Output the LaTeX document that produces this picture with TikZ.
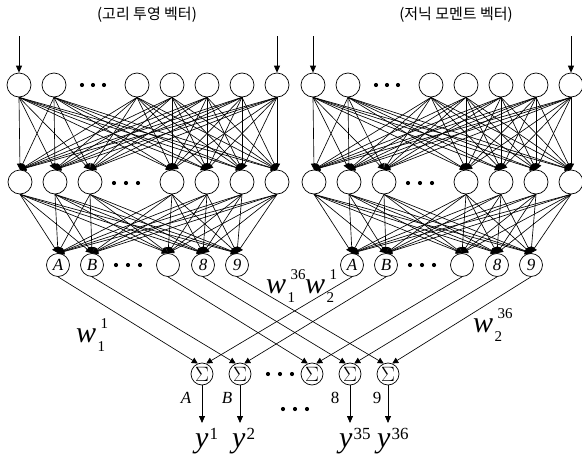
\documentclass[tikz,border=0pt]{standalone}
\usepackage{fontspec}
\setmainfont{Liberation Serif}
\newfontfamily\krfont{Noto Sans CJK KR}
\usetikzlibrary{arrows.meta}
\newcommand\wfnt{\fontsize{30}{30}\selectfont\itshape}
\newcommand\sfnt{\fontsize{15}{15}\selectfont}
\newcommand\wlab[2]{{\wfnt w}\kern1.5pt\makebox[0pt][l]{\kern3pt\raisebox{14pt}{\sfnt #2}}\raisebox{-9pt}{\sfnt #1}}
\newcommand\ylab[1]{{\fontsize{30}{30}\selectfont\itshape y}\kern1pt\raisebox{8pt}{\fontsize{17}{17}\selectfont #1}}
\begin{document}
\begin{tikzpicture}[x=1pt,y=-1pt,
  neuron/.style={circle,draw,line width=0.7pt,minimum size=24pt,inner sep=0pt},
  small/.style={circle,draw,line width=0.7pt,minimum size=23pt,inner sep=0pt,font=\fontsize{17}{17}\selectfont\itshape},
  sumnode/.style={circle,draw,line width=0.7pt,minimum size=22pt,inner sep=0pt,font=\fontsize{20}{20}\selectfont},
  conn/.style={line width=0.65pt,-{Triangle[length=6pt,width=6pt]}},
  arr/.style={line width=0.8pt,-{Triangle[length=7pt,width=6pt]}},
  dotc/.style={circle,fill,inner sep=0pt,minimum size=4.2pt},
  lbl/.style={font=\fontsize{17}{17}\selectfont, inner sep=0pt}]
\useasboundingbox (0,0) rectangle (582,461);

% titles
\node[font=\krfont\fontsize{15}{17}\selectfont] (t1) at (147,15) {(고리 투영 벡터)};
\node[font=\krfont\fontsize{15}{17}\selectfont] (t2) at (456,15) {(저닉 모멘트 벡터)};

% two networks
\foreach \N/\o in {L/0,R/294}{
  \foreach \x [count=\i] in {19,54,137,172,207,242,277}
    \node[neuron] (\N1-\i) at (\x+\o,85) {};
  \foreach \x [count=\i] in {20,55,90,172,207,242,277}
    \node[neuron] (\N2-\i) at (\x+\o,182) {};
  \foreach \x/\t [count=\i] in {58/A,92/B,168/{},203/8,237/9}
    \node[small] (\N3-\i) at (\x+\o,265) {\t};
  \foreach \d [count=\k] in {82,93,104}
    \node[dotc] (\N d1-\k) at (\d+\o,85) {};
  \foreach \d [count=\k] in {114,126,138}
    \node[dotc] (\N d2-\k) at (\d+\o,183) {};
  \foreach \d [count=\k] in {116,128,140}
    \node[dotc] (\N d3-\k) at (\d+\o,265) {};
  \coordinate (\N in1) at (19+\o,36);
  \coordinate (\N in2) at (277+\o,36);
  \draw[arr] (\N in1) -- (\N1-1.north);
  \draw[arr] (\N in2) -- (\N1-7.north);
  \foreach \i in {1,...,7}
    \foreach \j in {1,...,7}
      \draw[conn] (\N1-\i.south) -- (\N2-\j.north);
  \foreach \i in {1,...,7}
    \foreach \j in {1,...,5}
      \draw[conn] (\N2-\i.south) -- (\N3-\j.north);
}

% summation nodes
\foreach \x [count=\i] in {202,240,312,350,388}
  \node[sumnode] (S-\i) at (\x,374) {$\Sigma$};
\foreach \d [count=\k] in {268,280,292}
  \node[dotc] (sd-\k) at (\d,374) {};
\foreach \d [count=\k] in {283,295,307}
  \node[dotc] (od-\k) at (\d,409) {};

\foreach \i in {1,...,5}{
  \draw[conn] (L3-\i.south) -- (S-\i.112);
  \draw[conn] (R3-\i.south) -- (S-\i.68);
}

% outputs
\foreach \i/\x in {1/202,2/240,4/350,5/388}{
  \coordinate (o-\i) at (\x,423);
  \draw[arr] (S-\i.south) -- (o-\i);
}
\node[lbl,font=\fontsize{17}{17}\selectfont\itshape] (la) at (186,398) {A};
\node[lbl,font=\fontsize{17}{17}\selectfont\itshape] (lb) at (227,398) {B};
\node[lbl] (l8) at (335,398) {8};
\node[lbl] (l9) at (377,398) {9};

\node[anchor=base west,inner sep=0pt] (y1) at (195,447) {\ylab{1}};
\node[anchor=base west,inner sep=0pt] (y2) at (232,447) {\ylab{2}};
\node[anchor=base west,inner sep=0pt] (y35) at (339,447) {\ylab{35}};
\node[anchor=base west,inner sep=0pt] (y36) at (377,447) {\ylab{36}};

% weight labels
\node[anchor=base west,inner sep=0pt] (w11) at (76,342) {\wlab{1}{1}};
\node[anchor=base west,inner sep=0pt] (w136) at (266,293) {\wlab{1}{36}};
\node[anchor=base west,inner sep=0pt] (w21) at (305,293) {\wlab{2}{1}};
\node[anchor=base west,inner sep=0pt] (w236) at (473,332) {\wlab{2}{36}};
\end{tikzpicture}
\end{document}
